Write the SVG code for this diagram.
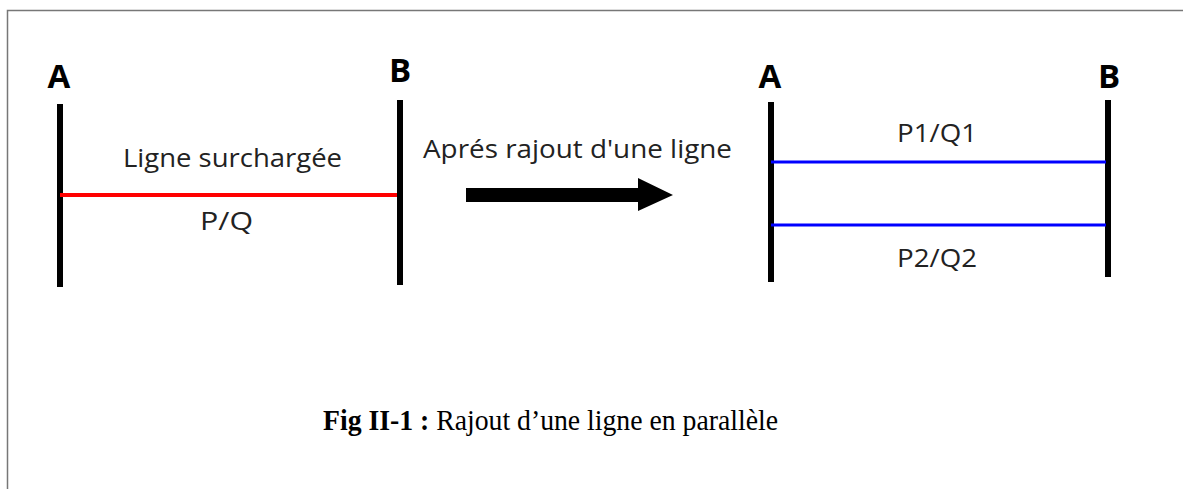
<svg xmlns="http://www.w3.org/2000/svg" width="1183" height="489" viewBox="0 0 1183 489">
  <style>
    .bus { stroke: #000; stroke-width: 6; }
    .label { font-family: "Open Sans", "Liberation Sans", sans-serif; font-size: 26px; fill: #222; }
    .busname { font-family: "Open Sans", "Liberation Sans", sans-serif; font-weight: bold; font-size: 33px; fill: #000; }
    .caption { font-family: "Liberation Serif", "Times New Roman", serif; font-size: 29px; fill: #000; }
  </style>
  <rect width="1183" height="489" fill="#fff"/>
  <!-- frame (top and left edges) -->
  <path d="M7.5 489 V10.5 H1183" fill="none" stroke="#777" stroke-width="1.5"/>

  <!-- before: single overloaded line -->
  <g id="bus-A-before">
    <line class="bus" x1="60" y1="104" x2="60" y2="287"/>
    <text class="busname" x="59" y="88" text-anchor="middle" textLength="25">A</text>
  </g>
  <g id="bus-B-before">
    <line class="bus" x1="400" y1="100" x2="400" y2="285"/>
    <text class="busname" x="400" y="82" text-anchor="middle" textLength="20">B</text>
  </g>

  <!-- after: two parallel lines -->
  <g id="bus-A-after">
    <line class="bus" x1="771" y1="102" x2="771" y2="282"/>
    <text class="busname" x="770" y="88" text-anchor="middle" textLength="25">A</text>
  </g>
  <g id="bus-B-after">
    <line class="bus" x1="1108" y1="100" x2="1108" y2="277"/>
    <text class="busname" x="1109" y="88" text-anchor="middle" textLength="21">B</text>
  </g>

  <g id="connectors">
    <line id="line-overloaded" x1="60" y1="195" x2="397" y2="195" stroke="#f00" stroke-width="4"/>
    <line id="line-1" x1="771" y1="162" x2="1106" y2="162" stroke="#00f" stroke-width="3"/>
    <line id="line-2" x1="771" y1="225" x2="1106" y2="225" stroke="#00f" stroke-width="3"/>
    <polygon id="transition-arrow" points="466,188 638,188 638,178 673,195 638,211 638,202 466,202" fill="#000"/>
  </g>

  <g id="labels">
    <text class="label" x="123" y="167" textLength="219" lengthAdjust="spacingAndGlyphs">Ligne surchargée</text>
    <text class="label" x="200" y="230" textLength="53" lengthAdjust="spacingAndGlyphs">P/Q</text>
    <text class="label" x="423" y="158" textLength="309" lengthAdjust="spacingAndGlyphs">Aprés rajout d'une ligne</text>
    <text class="label" x="897" y="142" textLength="80" lengthAdjust="spacingAndGlyphs">P1/Q1</text>
    <text class="label" x="897" y="267" textLength="80" lengthAdjust="spacingAndGlyphs">P2/Q2</text>
  </g>

  <text class="caption" x="323" y="430" textLength="455" lengthAdjust="spacingAndGlyphs"><tspan font-weight="bold">Fig II-1 :</tspan> Rajout d’une ligne en parallèle</text>
</svg>
